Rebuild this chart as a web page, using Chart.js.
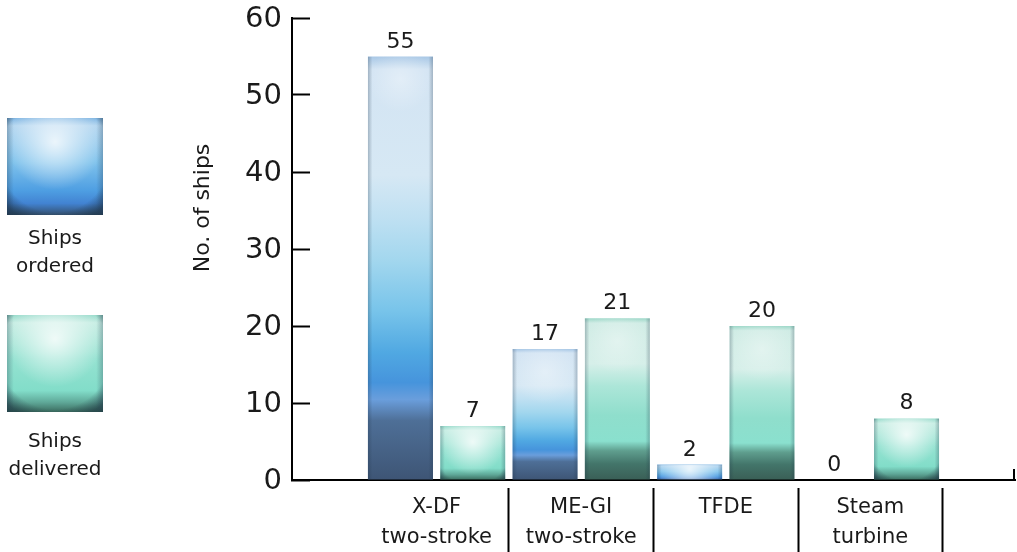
<!DOCTYPE html>
<html>
<head>
<meta charset="utf-8">
<script src="https://cdn.jsdelivr.net/npm/chart.js@4.4.0/dist/chart.umd.min.js"></script>
<style>
html, body { margin: 0; padding: 0; background: #fff; }
#wrap { width: 1017px; height: 552px; position: relative; }
</style>
</head>
<body>
<div id="wrap"><canvas id="shipChart"></canvas></div>
<script>
// engine types on the x axis, one entry per category (multi-line labels)
var categories = [['X-DF', 'two-stroke'], ['ME-GI', 'two-stroke'], ['TFDE'], ['Steam', 'turbine']];
var shipsOrdered = [55, 17, 2, 0];
var shipsDelivered = [7, 21, 20, 8];
var yTicks = [0, 10, 20, 30, 40, 50, 60];
var seriesNames = ['Ships ordered', 'Ships delivered'];
var yTitle = 'No. of ships';

var FONT = '"DejaVu Sans", sans-serif';
var INK = '#1a1a1a';
var TALL = 100; // px; taller bars get the long glass gradient

// glassy look, stretched over the height of each bar
var stops = {
    ordered: [[0, '#a9c8e6'], [0.03, '#d3e4f3'], [0.28, '#d6e8f4'], [0.38, '#bfe0f2'], [0.48, '#a3d7ee'],
        [0.6, '#78c4ea'], [0.7, '#50a8e2'], [0.77, '#4694dc'], [0.81, '#6a9edc'], [0.86, '#4e6f97'], [1, '#3e5575']],
    delivered: [[0, '#9ed8c9'], [0.03, '#d0ece5'], [0.28, '#d6efe9'], [0.42, '#ace6d8'], [0.6, '#8fdecc'],
        [0.76, '#8ae0ce'], [0.82, '#5f9e8e'], [0.9, '#43756a'], [1, '#3a5f56']]
};
var shortStops = {
    ordered: [[0, '#7fb5e2'], [0.08, '#b3d6f0'], [0.45, '#80c3ec'], [0.75, '#4e9ee2'], [0.88, '#4283d2'], [1, '#34506e']],
    delivered: [[0, '#98dbcb'], [0.08, '#c6ede3'], [0.45, '#95e2d1'], [0.78, '#82ddc9'], [0.9, '#5fa898'], [1, '#3b6c5f']]
};

function vGradient(ctx, kind, top, bottom) {
    var set = bottom - top > TALL ? stops[kind] : shortStops[kind];
    var g = ctx.createLinearGradient(0, top, 0, bottom);
    set.forEach(function (s) { g.addColorStop(s[0], s[1]); });
    return g;
}

function barFill(kind) {
    return function (c) {
        var chart = c.chart;
        var flat = stops[kind][5][1];
        if (c.type !== 'data' || !c.parsed || !chart.scales.y) return flat;
        var ys = chart.scales.y;
        var top = ys.getPixelForValue(c.parsed.y);
        var base = ys.getPixelForValue(0);
        if (!isFinite(top) || !isFinite(base) || base - top < 1) return flat;
        return vGradient(chart.ctx, kind, top, base);
    };
}

function gloss(ctx, x0, y0, w, h) {
    var tall = h > TALL;
    var cx = x0 + w / 2;
    ctx.save();
    ctx.beginPath();
    ctx.rect(x0, y0, w, h);
    ctx.clip();
    // white highlight near the top
    var cy = y0 + (tall ? w * 0.35 : Math.min(h * 0.3, w * 0.25));
    var g = ctx.createRadialGradient(cx, cy, 0, cx, cy, w * 0.5);
    g.addColorStop(0, tall ? 'rgba(255,255,255,0.35)' : 'rgba(255,255,255,0.8)');
    g.addColorStop(1, 'rgba(255,255,255,0)');
    ctx.fillStyle = g;
    ctx.fillRect(x0, y0, w, h);
    if (!tall) {
        // dark rounded rim at the bottom corners
        var vy = y0 + h * 0.4, r = w * 0.72;
        var v = ctx.createRadialGradient(cx, vy, r * 0.8, cx, vy, r);
        v.addColorStop(0, 'rgba(25,45,60,0)');
        v.addColorStop(1, 'rgba(25,45,60,0.55)');
        ctx.fillStyle = v;
        ctx.fillRect(x0, y0, w, h);
    }
    var e = ctx.createLinearGradient(x0, 0, x0 + w, 0);
    e.addColorStop(0, 'rgba(30,50,70,0.28)');
    e.addColorStop(0.07, 'rgba(30,50,70,0)');
    e.addColorStop(0.93, 'rgba(30,50,70,0)');
    e.addColorStop(1, 'rgba(30,50,70,0.28)');
    ctx.fillStyle = e;
    ctx.fillRect(x0, y0, w, h);
    ctx.restore();
}

var glassPlugin = {
    id: 'glass',
    afterDatasetsDraw: function (chart) {
        var ctx = chart.ctx;
        chart.data.datasets.forEach(function (ds, di) {
            chart.getDatasetMeta(di).data.forEach(function (bar, i) {
                var p = bar.getProps(['x', 'y', 'base', 'width'], true);
                if (!isFinite(p.x) || !isFinite(p.y)) return;
                var h = p.base - p.y;
                if (h > 1) gloss(ctx, p.x - p.width / 2, p.y, p.width, h);
                ctx.save();
                ctx.font = '22px ' + FONT;
                ctx.fillStyle = INK;
                ctx.textAlign = 'center';
                ctx.textBaseline = 'alphabetic';
                ctx.fillText(String(ds.data[i].y), p.x, p.y - 9);
                ctx.restore();
            });
        });
    },
    afterDraw: function (chart) {
        var ctx = chart.ctx;
        var area = chart.chartArea;
        // small end mark on the right of the x axis
        ctx.save();
        ctx.strokeStyle = '#000';
        ctx.lineWidth = 2;
        ctx.beginPath();
        ctx.moveTo(area.right - 1, area.bottom - 11);
        ctx.lineTo(area.right - 1, area.bottom);
        ctx.stroke();

        // y axis title
        ctx.font = '22px ' + FONT;
        ctx.fillStyle = INK;
        ctx.translate(203, 208);
        ctx.rotate(-Math.PI / 2);
        ctx.textAlign = 'center';
        ctx.textBaseline = 'middle';
        ctx.fillText(yTitle, 0, 0);
        ctx.restore();

        // legend: big swatches with the label underneath
        var kinds = ['ordered', 'delivered'];
        var swTop = [118, 315];
        var baselines = [[244, 272], [447, 475]];
        chart.data.datasets.forEach(function (ds, di) {
            var x0 = 7, y0 = swTop[di], w = 96, h = 97;
            ctx.save();
            ctx.fillStyle = vGradient(ctx, kinds[di], y0, y0 + h);
            ctx.fillRect(x0, y0, w, h);
            ctx.restore();
            gloss(ctx, x0, y0, w, h);
            ctx.save();
            ctx.font = '20px ' + FONT;
            ctx.fillStyle = INK;
            ctx.textAlign = 'center';
            ctx.textBaseline = 'alphabetic';
            ds.label.split(' ').forEach(function (word, k) {
                ctx.fillText(word, x0 + w / 2, baselines[di][k]);
            });
            ctx.restore();
        });
    }
};

function toPoints(values) {
    return values.map(function (v, i) { return { x: i, y: v }; });
}

var ctx = document.getElementById('shipChart');
var shipChart = new Chart(ctx, {
    type: 'bar',
    data: {
        datasets: [
            {
                label: seriesNames[0],
                data: toPoints(shipsOrdered),
                backgroundColor: barFill('ordered'),
                borderWidth: 0
            },
            {
                label: seriesNames[1],
                data: toPoints(shipsDelivered),
                backgroundColor: barFill('delivered'),
                borderWidth: 0
            }
        ]
    },
    options: {
        responsive: true,
        maintainAspectRatio: false,
        animation: false,
        // x ticks sit every half category (labels + dividers), so the bar ruler sees half a category
        categoryPercentage: 2,
        barPercentage: 0.9,
        layout: { padding: { left: 212, top: 18, right: 2, bottom: 0 } },
        plugins: {
            legend: { display: false },
            tooltip: { enabled: false }
        },
        scales: {
            x: {
                type: 'linear',
                min: -1,
                max: 4,
                offset: false,
                afterBuildTicks: function (s) {
                    var t = [];
                    categories.forEach(function (c, i) {
                        t.push({ value: i });
                        t.push({ value: i + 0.5 });
                    });
                    s.ticks = t;
                },
                afterFit: function (s) { s.height = 72; },
                grid: {
                    offset: false,
                    drawOnChartArea: false,
                    tickLength: 72,
                    tickWidth: 2,
                    tickColor: function (c) {
                        return c.tick && c.tick.value % 1 !== 0 ? '#000' : 'rgba(0,0,0,0)';
                    },
                    tickBorderDash: [0, 7, 100, 0]
                },
                border: { color: '#000', width: 2 },
                ticks: {
                    autoSkip: false,
                    maxRotation: 0,
                    padding: -59,
                    color: INK,
                    font: { family: FONT, size: 21, lineHeight: 1.42 },
                    callback: function (v) {
                        return Number.isInteger(v) && categories[v] ? categories[v] : '';
                    }
                }
            },
            y: {
                min: 0,
                max: 60,
                afterBuildTicks: function (s) {
                    s.ticks = yTicks.map(function (v) { return { value: v }; });
                },
                afterFit: function (s) {
                    s.width = 80;
                    s.paddingTop = 0;
                    s.paddingBottom = 0;
                },
                grid: {
                    drawOnChartArea: false,
                    tickLength: -18,
                    tickWidth: 2,
                    tickColor: '#000'
                },
                border: { color: '#000', width: 2 },
                ticks: {
                    padding: 28,
                    labelOffset: 1,
                    color: INK,
                    font: { family: FONT, size: 29 }
                }
            }
        }
    },
    plugins: [glassPlugin]
});
</script>
</body>
</html>
